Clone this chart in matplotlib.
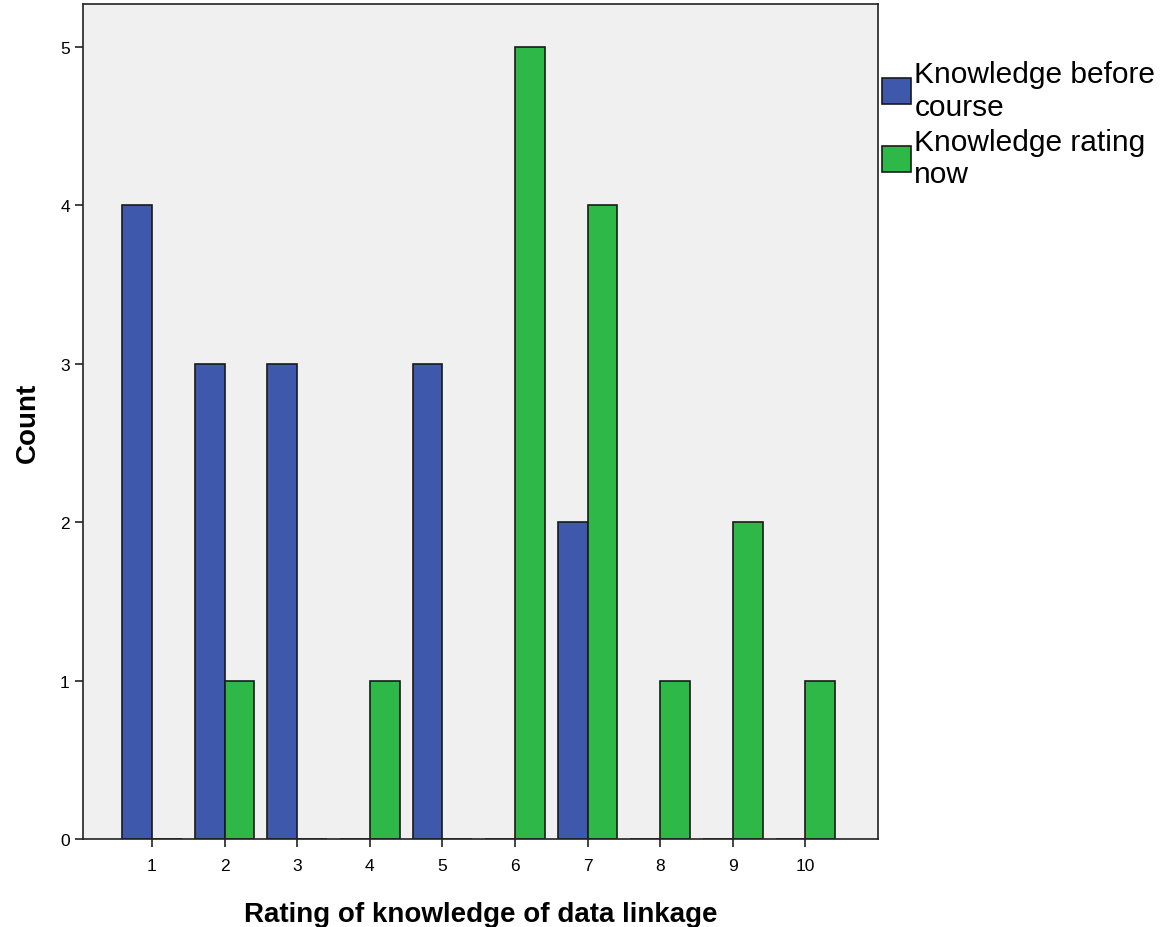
import matplotlib.pyplot as plt
import numpy as np

plt.rcParams['font.family'] = ['Liberation Sans', 'DejaVu Sans']

ratings = [1, 2, 3, 4, 5, 6, 7, 8, 9, 10]
before_course = [4, 3, 3, 0, 3, 0, 2, 0, 0, 0]
rating_now = [0, 1, 0, 1, 0, 5, 4, 1, 2, 1]
series_names = ["Knowledge before\ncourse", "Knowledge rating\nnow"]

blue = '#3E58AC'
green = '#2EB848'
w = 0.41

fig = plt.figure(figsize=(11.7, 9.28), dpi=100)
ax = fig.add_axes([0.0709, 0.0948, 0.6795, 0.8998])
ax.set_facecolor('#F0F0F0')

x = np.array(ratings)
ax.bar(x - w / 2, before_course, width=w, color=blue, edgecolor='#1a1a1a',
       linewidth=1.2, label=series_names[0], zorder=3)
ax.bar(x + w / 2, rating_now, width=w, color=green, edgecolor='#1a1a1a',
       linewidth=1.2, label=series_names[1], zorder=3)

ax.set_xlim(0.05, 11.0)
ax.set_ylim(0, 5.27)
ax.set_xticks(ratings)
ax.set_yticks([0, 1, 2, 3, 4, 5])
ax.tick_params(axis='both', direction='out', length=6, width=1.2,
               labelsize=12.5, color='#222222')
ax.tick_params(axis='x', pad=8)
for s in ax.spines.values():
    s.set_linewidth(1.2)
    s.set_color('#222222')
    s.set_zorder(4)

ax.set_xlabel("Rating of knowledge of data linkage", fontsize=20,
              fontweight='bold', labelpad=20)
ax.set_ylabel("Count", fontsize=20, fontweight='bold', labelpad=14)

leg = fig.legend(loc='upper left', bbox_to_anchor=(0.744, 0.947),
                 fontsize=21.5, frameon=False, handlelength=0.95,
                 handleheight=0.95, handletextpad=0.12, labelspacing=0.25,
                 borderaxespad=0)

fig.savefig('out.png', dpi=100)
